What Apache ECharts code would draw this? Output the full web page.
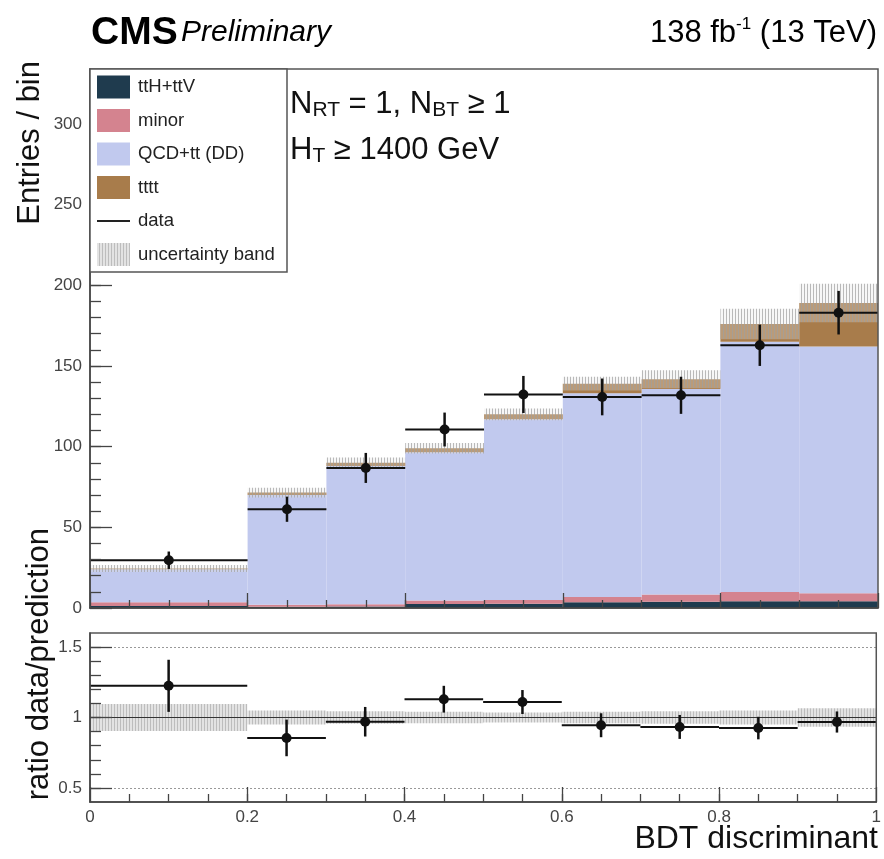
<!DOCTYPE html>
<html>
<head>
<meta charset="utf-8">
<title>BDT discriminant</title>
<script src="https://cdn.jsdelivr.net/npm/echarts@6/dist/echarts.min.js"></script>
<style>
  html, body { margin: 0; padding: 0; background: #fff; }
  #chart { width: 884px; height: 859px; }
</style>
</head>
<body>
<div id="chart"></div>
<script>
// bin edges of the BDT discriminant (first bin is wider)
var binEdges = [0, 0.2, 0.3, 0.4, 0.5, 0.6, 0.7, 0.8, 0.9, 1.0];

// stacked backgrounds, entries per bin, bottom to top
var ttHttV = [1.2, 0.8, 1.0, 2.5, 2.7, 3.5, 3.8, 4.2, 4.2];
var minor = [2.3, 1.2, 1.3, 2.2, 2.3, 3.3, 4.5, 5.7, 5.0];
var qcdTT = [20.5, 68.0, 85.7, 91.8, 112.0, 126.2, 127.4, 155.1, 152.8];
var tttt = [0.5, 1.5, 2.0, 2.5, 3.0, 6.0, 6.0, 11.0, 27.0];
// half width of the uncertainty band on the total prediction
var bkgUnc = [2.2, 3.0, 3.2, 3.2, 3.6, 4.3, 5.6, 9.5, 12.0];

var dataY = [29.6, 61.2, 86.8, 110.6, 132.3, 130.8, 131.8, 162.8, 183.0];
var dataErr = [5.4, 7.8, 9.3, 10.5, 11.5, 11.4, 11.5, 12.8, 13.5];

// lower panel
var ratioY = [1.225, 0.855, 0.97, 1.13, 1.11, 0.945, 0.933, 0.925, 0.968];
var ratioErr = [0.185, 0.13, 0.105, 0.095, 0.085, 0.085, 0.085, 0.08, 0.075];
var ratioUnc = [0.095, 0.05, 0.045, 0.04, 0.035, 0.04, 0.045, 0.05, 0.065];

// tick labels
var mainTicks = [0, 50, 100, 150, 200, 250, 300];
var ratioTicks = [0.5, 1, 1.5];
var xTicks = [0, 0.2, 0.4, 0.6, 0.8, 1];

var FONT = '"Liberation Sans", Arial, Helvetica, sans-serif';
var colors = {
  ttH: '#1f3b4e',
  minor: '#d4838f',
  qcd: '#c1c9ee',
  tttt: '#a87c4b'
};

// minor tick positions
var mainMinor = [];
for (var v = 10; v <= 330; v += 10) mainMinor.push(v);
var xMinor = [];
for (var k = 1; k < 20; k++) xMinor.push(k * 0.05);
var ratioMinor = [];
for (var r = 5; r <= 15; r++) ratioMinor.push(r / 10);

// vertical hatch used for the uncertainty band
function hatch(bg, line) {
  var c = document.createElement('canvas');
  c.width = 3;
  c.height = 4;
  var ctx = c.getContext('2d');
  ctx.fillStyle = bg;
  ctx.fillRect(0, 0, 3, 4);
  ctx.fillStyle = line;
  ctx.fillRect(0, 0, 1, 4);
  return { image: c, repeat: 'repeat' };
}

function stackRows(lower, values) {
  var rows = [];
  for (var i = 0; i < values.length; i++) {
    rows.push([binEdges[i], binEdges[i + 1], lower[i], lower[i] + values[i]]);
    lower[i] += values[i];
  }
  return rows;
}

function bandRows(center, unc) {
  var rows = [];
  for (var i = 0; i < unc.length; i++) {
    var c = Array.isArray(center) ? center[i] : center;
    rows.push([binEdges[i], binEdges[i + 1], c - unc[i], c + unc[i]]);
  }
  return rows;
}

function pointRows(y, err) {
  var rows = [];
  for (var i = 0; i < y.length; i++) {
    rows.push([binEdges[i], binEdges[i + 1], y[i], err[i]]);
  }
  return rows;
}

function binRenderer(fill) {
  return function (params, api) {
    var p0 = api.coord([api.value(0), api.value(3)]);
    var p1 = api.coord([api.value(1), api.value(2)]);
    return {
      type: 'rect',
      shape: { x: p0[0], y: p0[1], width: p1[0] - p0[0], height: p1[1] - p0[1] },
      style: { fill: fill }
    };
  };
}

function dataRenderer(params, api) {
  var x0 = api.value(0), x1 = api.value(1), y = api.value(2), e = api.value(3);
  var xc = (x0 + x1) / 2;
  var a = api.coord([x0, y]);
  var b = api.coord([x1, y]);
  var c = api.coord([xc, y]);
  var lo = api.coord([xc, y - e]);
  var hi = api.coord([xc, y + e]);
  return {
    type: 'group',
    children: [
      { type: 'line', shape: { x1: a[0], y1: a[1], x2: b[0], y2: b[1] }, style: { stroke: '#111', lineWidth: 2 } },
      { type: 'line', shape: { x1: lo[0], y1: lo[1], x2: hi[0], y2: hi[1] }, style: { stroke: '#111', lineWidth: 2.5 } },
      { type: 'circle', shape: { cx: c[0], cy: c[1], r: 5 }, style: { fill: '#111' } }
    ]
  };
}

var lower = [0, 0, 0, 0, 0, 0, 0, 0, 0];
var ttHRows = stackRows(lower, ttHttV);
var minorRows = stackRows(lower, minor);
var qcdRows = stackRows(lower, qcdTT);
var ttttRows = stackRows(lower, tttt);
var total = lower.slice();

var mainBand = hatch('rgba(230,230,230,0.3)', 'rgba(160,160,160,0.7)');
var ratioBand = hatch('rgba(222,222,222,0.85)', 'rgba(185,185,185,0.9)');

function histSeries(name, rows, fill, xi, yi) {
  return {
    name: name,
    type: 'custom',
    xAxisIndex: xi,
    yAxisIndex: yi,
    renderItem: binRenderer(fill),
    encode: { x: [0, 1], y: [2, 3] },
    data: rows,
    clip: true,
    silent: true
  };
}

function tickAxis(grid, pos, min, max, ticks, len, withLine) {
  return {
    type: 'value',
    gridIndex: grid,
    position: pos,
    min: min,
    max: max,
    z: 10,
    axisLine: { show: !!withLine, onZero: false, lineStyle: { color: '#444', width: 1.5 } },
    axisTick: { show: true, inside: true, length: len, customValues: ticks, lineStyle: { color: '#444', width: 1.3 } },
    axisLabel: { show: false },
    splitLine: { show: false }
  };
}

var chart = echarts.init(document.getElementById('chart'));

var labelStyle = { fontFamily: FONT, fontSize: 17, color: '#444' };

var xMainMajor = tickAxis(0, 'bottom', 0, 1, xTicks, 15, true);
var xMainMinor = tickAxis(0, 'bottom', 0, 1, xMinor, 8, false);
var xRatioMajor = tickAxis(1, 'bottom', 0, 1, xTicks, 15, true);
xRatioMajor.axisLabel = Object.assign({
  show: true,
  customValues: xTicks,
  margin: 7,
  formatter: function (val) { return String(Math.round(val * 10) / 10); }
}, labelStyle);
var xRatioMinor = tickAxis(1, 'bottom', 0, 1, xMinor, 8, false);

var yMainMajor = tickAxis(0, 'left', 0, 334, mainTicks, 22, true);
yMainMajor.axisLabel = Object.assign({ show: true, customValues: mainTicks, margin: 8 }, labelStyle);
var yMainMinor = tickAxis(0, 'left', 0, 334, mainMinor, 11, false);
var yRatioMajor = tickAxis(1, 'left', 0.4, 1.6, ratioTicks, 22, true);
yRatioMajor.axisLabel = Object.assign({ show: true, customValues: ratioTicks, margin: 8 }, labelStyle);
var yRatioMinor = tickAxis(1, 'left', 0.4, 1.6, ratioMinor, 11, false);

var legendItems = [
  { label: 'ttH+ttV', kind: 'box', fill: colors.ttH },
  { label: 'minor', kind: 'box', fill: colors.minor },
  { label: 'QCD+tt (DD)', kind: 'box', fill: colors.qcd },
  { label: 'tttt', kind: 'box', fill: colors.tttt },
  { label: 'data', kind: 'line' },
  { label: 'uncertainty band', kind: 'box', fill: ratioBand }
];

var legendChildren = [
  { type: 'rect', z: 30, shape: { x: 90, y: 69, width: 197, height: 203 }, style: { fill: '#fff', stroke: '#555', lineWidth: 1.5 } }
];
legendItems.forEach(function (item, i) {
  var cy = 87 + i * 33.5;
  if (item.kind === 'box') {
    legendChildren.push({ type: 'rect', z: 31, shape: { x: 97, y: cy - 11.5, width: 33, height: 23 }, style: { fill: item.fill } });
  } else {
    legendChildren.push({ type: 'line', z: 31, shape: { x1: 97, y1: cy, x2: 130, y2: cy }, style: { stroke: '#222', lineWidth: 2 } });
  }
  legendChildren.push({
    type: 'text', z: 31, x: 138, y: cy,
    style: { text: item.label, fontFamily: FONT, fontSize: 18.5, fill: '#222', verticalAlign: 'middle' }
  });
});

chart.setOption({
  animation: false,
  backgroundColor: '#fff',
  grid: [
    { left: 90, top: 69, width: 788, height: 539, show: true, z: 9, borderColor: '#555', borderWidth: 1.5, backgroundColor: 'transparent' },
    { left: 90, top: 633, width: 788, height: 169, show: true, z: 9, borderColor: '#555', borderWidth: 1.5, backgroundColor: 'transparent' }
  ],
  xAxis: [xMainMajor, xMainMinor, xRatioMajor, xRatioMinor],
  yAxis: [yMainMajor, yMainMinor, yRatioMajor, yRatioMinor],
  series: [
    histSeries('ttH+ttV', ttHRows, colors.ttH, 0, 0),
    histSeries('minor', minorRows, colors.minor, 0, 0),
    histSeries('QCD+tt (DD)', qcdRows, colors.qcd, 0, 0),
    histSeries('tttt', ttttRows, colors.tttt, 0, 0),
    histSeries('uncertainty band', bandRows(total, bkgUnc), mainBand, 0, 0),
    {
      name: 'data',
      type: 'custom',
      xAxisIndex: 0,
      yAxisIndex: 0,
      renderItem: dataRenderer,
      encode: { x: [0, 1], y: 2 },
      data: pointRows(dataY, dataErr),
      z: 5,
      silent: true
    },
    Object.assign(histSeries('ratio band', bandRows(1, ratioUnc), ratioBand, 2, 2), {
      markLine: {
        silent: true,
        symbol: 'none',
        label: { show: false },
        data: [
          { yAxis: 0.5, lineStyle: { color: '#999', type: [2, 2], width: 1 } },
          { yAxis: 1.5, lineStyle: { color: '#999', type: [2, 2], width: 1 } },
          { yAxis: 1, lineStyle: { color: '#333', type: 'solid', width: 1 } }
        ]
      }
    }),
    {
      name: 'ratio',
      type: 'custom',
      xAxisIndex: 2,
      yAxisIndex: 2,
      renderItem: dataRenderer,
      encode: { x: [0, 1], y: 2 },
      data: pointRows(ratioY, ratioErr),
      z: 5,
      silent: true
    }
  ],
  graphic: [
    {
      type: 'text', x: 91, y: 33,
      style: {
        text: '{b|CMS} {i|Preliminary}',
        verticalAlign: 'middle',
        rich: {
          b: { fontFamily: FONT, fontSize: 39, fontWeight: 'bold', fill: '#000' },
          i: { fontFamily: FONT, fontSize: 30, fontStyle: 'italic', fill: '#000' }
        }
      }
    },
    {
      type: 'text', x: 877, y: 33,
      style: {
        text: '{n|138 fb}{s|-1}{n| (13 TeV)}',
        align: 'right',
        verticalAlign: 'middle',
        rich: {
          n: { fontFamily: FONT, fontSize: 31, fill: '#000', lineHeight: 34 },
          s: { fontFamily: FONT, fontSize: 17, fill: '#000', verticalAlign: 'top', lineHeight: 18 }
        }
      }
    },
    {
      type: 'group',
      children: legendChildren
    },
    {
      type: 'text', x: 290, y: 104, z: 30,
      style: {
        text: '{n|N}{s|RT}{n| = 1, N}{s|BT}{n| \u2265 1}',
        verticalAlign: 'middle',
        rich: {
          n: { fontFamily: FONT, fontSize: 31, fill: '#111', lineHeight: 34 },
          s: { fontFamily: FONT, fontSize: 21, fill: '#111', verticalAlign: 'bottom', lineHeight: 24 }
        }
      }
    },
    {
      type: 'text', x: 290, y: 150, z: 30,
      style: {
        text: '{n|H}{s|T}{n| \u2265 1400 GeV}',
        verticalAlign: 'middle',
        rich: {
          n: { fontFamily: FONT, fontSize: 31, fill: '#111', lineHeight: 34 },
          s: { fontFamily: FONT, fontSize: 21, fill: '#111', verticalAlign: 'bottom', lineHeight: 24 }
        }
      }
    },
    {
      type: 'text', x: 30, y: 61, rotation: Math.PI / 2,
      style: { text: 'Entries / bin', fontFamily: FONT, fontSize: 31, fill: '#111', align: 'right', verticalAlign: 'middle' }
    },
    {
      type: 'text', x: 39, y: 528, rotation: Math.PI / 2,
      style: { text: 'ratio data/prediction', fontFamily: FONT, fontSize: 31, fill: '#111', align: 'right', verticalAlign: 'middle' }
    },
    {
      type: 'text', x: 878, y: 839,
      style: { text: 'BDT discriminant', fontFamily: FONT, fontSize: 32, fill: '#111', align: 'right', verticalAlign: 'middle' }
    }
  ]
});
</script>
</body>
</html>
